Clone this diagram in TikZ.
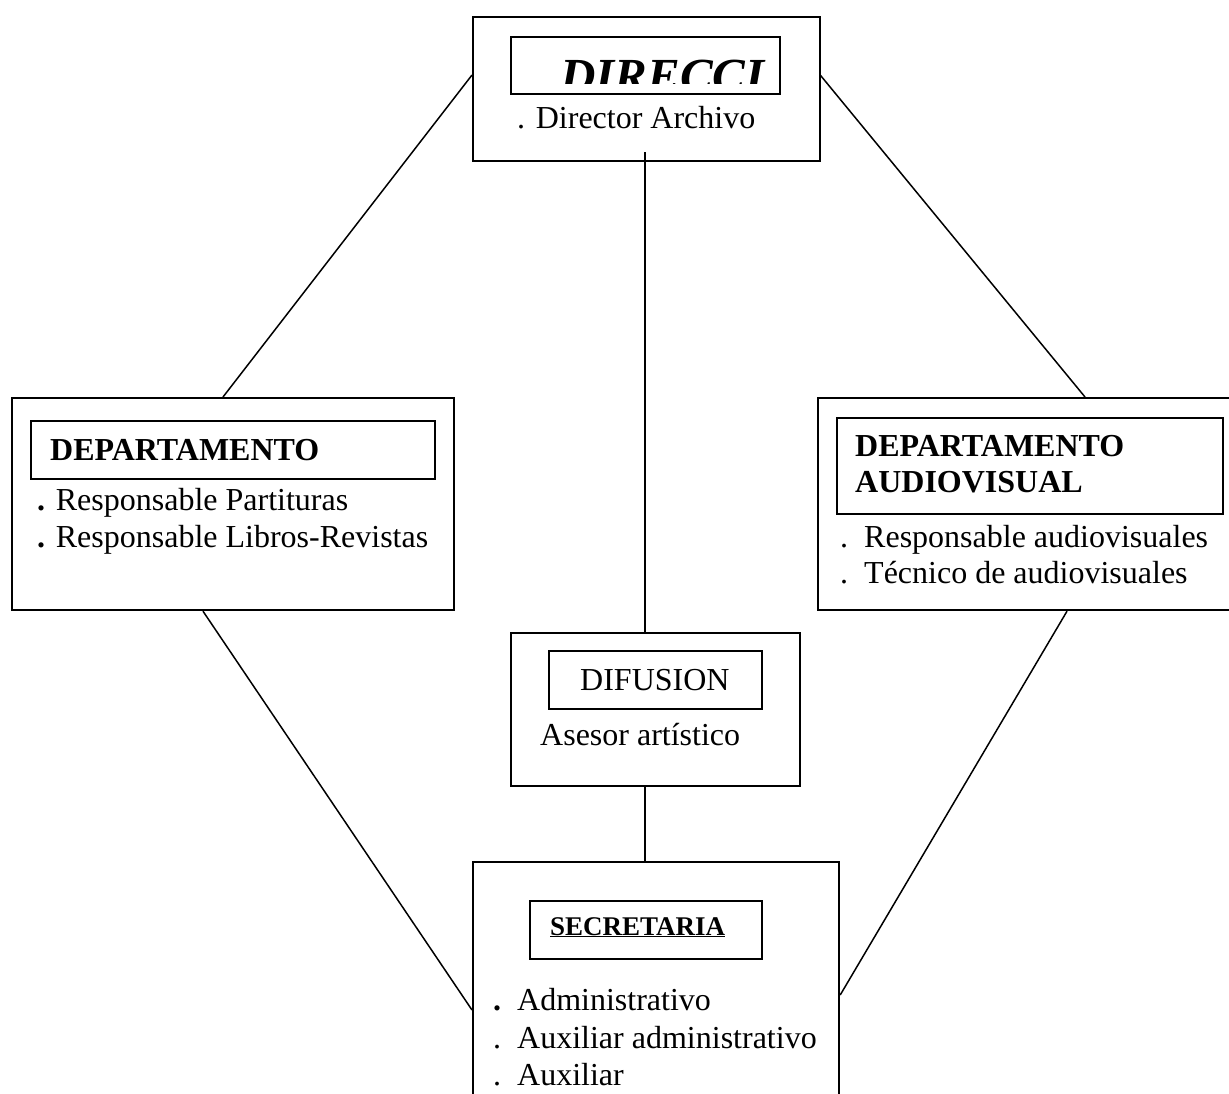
\documentclass[tikz,border=0pt]{standalone}
\usepackage{fontspec}
\setmainfont{Liberation Serif}
\usetikzlibrary{calc}
\begin{document}
\begin{tikzpicture}[x=1pt,y=-1pt,
  outerbox/.style={draw, line width=2.2pt, anchor=north west, inner sep=0pt},
  innerbox/.style={draw, line width=1.6pt, anchor=north west, inner sep=0pt},
  txt/.style={anchor=base west, inner sep=0pt, font=\fontsize{32}{38}\selectfont},
  btxt/.style={anchor=base west, inner sep=0pt, font=\fontsize{32}{38}\selectfont\bfseries},
  conn/.style={draw, line width=1.5pt}]
\clip (0,0) rectangle (1229,1093);
\fill[white] (0,0) rectangle (1229,1093);

% DIRECCION
\node[outerbox, minimum width=347pt, minimum height=144pt] (dir) at (472,16) {};
\node[innerbox, minimum width=269pt, minimum height=57pt] (dirin) at (510,36) {};
\begin{scope}
  \clip (511,37) rectangle (778,83);
  \node[anchor=base west, inner sep=0pt, font=\fontsize{49}{52}\selectfont\bfseries\itshape] (dirt) at (560,92) {DIRECCI};
\end{scope}
\node[txt] (dira) at (517,128) {. Director Archivo};

% Left department
\node[outerbox, minimum width=442pt, minimum height=212pt] (ldep) at (11,397) {};
\node[innerbox, minimum width=404pt, minimum height=58pt] (ldepin) at (30,420) {};
\node[btxt] (ldept) at (50,460) {DEPARTAMENTO};
\node[txt] (ldep1) at (37,510) {\textbf{.} Responsable Partituras};
\node[txt] (ldep2) at (37,547) {\textbf{.} Responsable Libros-Revistas};

% Right department
\node[outerbox, minimum width=423pt, minimum height=212pt] (rdep) at (817,397) {};
\node[innerbox, minimum width=386pt, minimum height=96pt] (rdepin) at (836,417) {};
\node[btxt] (rdept1) at (855,456) {DEPARTAMENTO};
\node[btxt] (rdept2) at (855,492) {AUDIOVISUAL};
\node[txt] (rdep1) at (840,547) {.\ \ Responsable audiovisuales};
\node[txt] (rdep2) at (840,583) {.\ \ Técnico de audiovisuales};

% Difusion
\node[outerbox, minimum width=289pt, minimum height=153pt] (dif) at (510,632) {};
\node[innerbox, minimum width=213pt, minimum height=58pt] (difin) at (548,650) {};
\node[txt] (dift) at (580,690) {DIFUSION};
\node[txt] (difa) at (540,745) {Asesor artístico};

% Secretaria
\node[outerbox, minimum width=366pt, minimum height=270pt] (sec) at (472,861) {};
\node[innerbox, minimum width=232pt, minimum height=58pt] (secin) at (529,900) {};
\node[anchor=base west, inner sep=0pt, font=\fontsize{27}{32}\selectfont\bfseries] (sect) at (550,935) {\underline{SECRETARIA}};
\node[txt] (sec1) at (493,1010) {\textbf{.}\ \ Administrativo};
\node[txt] (sec2) at (493,1048) {.\ \ Auxiliar administrativo};
\node[txt] (sec3) at (493,1085) {.\ \ Auxiliar};

% Connectors
\draw[conn] ($(dir.south west)+(173,-10)$) -- ($(dif.north west)+(135,0)$);
\draw[conn] ($(dif.south west)+(135,0)$) -- ($(sec.north west)+(173,0)$);
\draw[conn] ($(dir.north west)+(0,59)$) -- ($(ldep.north west)+(212,0)$);
\draw[conn] ($(dir.north east)+(-1,59)$) -- ($(rdep.north west)+(268,0)$);
\draw[conn] ($(ldep.south west)+(192,0)$) -- ($(sec.north west)+(0,149)$);
\draw[conn] ($(rdep.south west)+(250,0)$) -- ($(sec.north east)+(0,134)$);
\end{tikzpicture}
\end{document}
